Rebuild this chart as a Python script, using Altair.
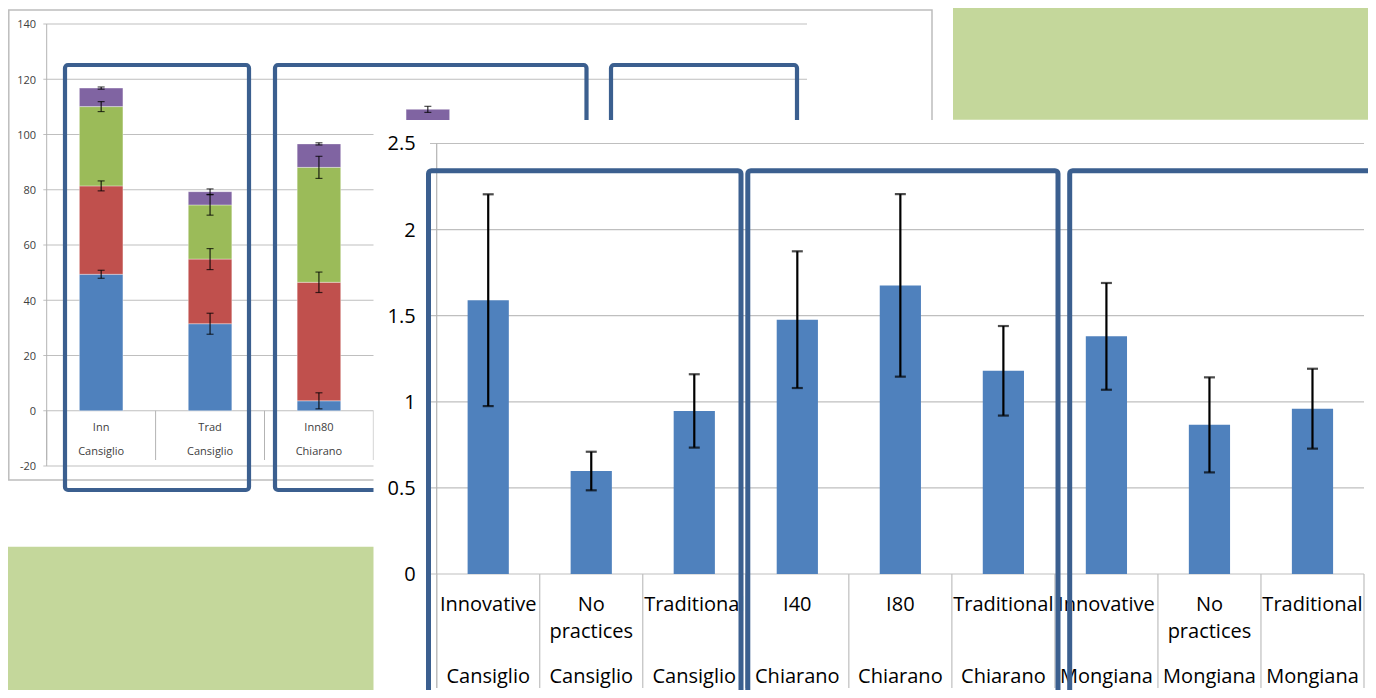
import altair as alt
import pandas as pd

# ---------------- background chart (stacked bars, mostly covered) ----------------
back_treatment = ["Inn", "Trad", "Inn80", "Inn40"]
back_site = ["Cansiglio", "Cansiglio", "Chiarano", "Chiarano"]
back_segments = ["S1", "S2", "S3", "S4"]
back_s1 = [49.4, 31.5, 3.6, 5.0]
back_s2 = [32.0, 23.4, 42.9, 40.0]
back_s3 = [28.7, 19.6, 41.6, 55.0]
back_s4 = [6.7, 4.8, 8.5, 9.1]
back_e1 = [1.45, 3.8, 2.9, 2.0]
back_e2 = [1.8, 3.8, 3.7, 3.0]
back_e3 = [1.8, 3.7, 4.0, 3.0]
back_e4 = [0.4, 1.0, 0.4, 1.1]
back_ticks = [-20, 0, 20, 40, 60, 80, 100, 120, 140]

# ---------------- foreground chart ----------------
front_site = ["Cansiglio", "Cansiglio", "Cansiglio",
              "Chiarano", "Chiarano", "Chiarano",
              "Mongiana", "Mongiana", "Mongiana"]
front_treatment = ["Innovative", "No practices", "Traditional",
                   "I40", "I80", "Traditional",
                   "Innovative", "No practices", "Traditional"]
front_mean = [1.59, 0.598, 0.947, 1.477, 1.676, 1.18, 1.38, 0.866, 0.96]
front_err = [0.615, 0.112, 0.213, 0.397, 0.53, 0.26, 0.31, 0.276, 0.232]
front_ticks = [0, 0.5, 1, 1.5, 2, 2.5]
front_tick_labels = ["0", "0.5", "1", "1.5", "2", "2.5"]

# ---------------- styling ----------------
OFF = 8  # page margin
FONT = "Open Sans"
GRID = "#BFBFBF"
AXIS = "#B3B3B3"
OUTLINE = "#3B5F8F"
GREEN = "#C4D79B"
SEG_COLORS = ["#4F81BD", "#C0504D", "#9BBB59", "#8064A2"]
BAR_BLUE = "#4F81BD"


def V(px):
    return alt.value(px - OFF)


ONE = pd.DataFrame({"k": [0]})

# ---------------- tables ----------------
back_keys = [f"{t}|{s}" for t, s in zip(back_treatment, back_site)]
rows = []
vals = [back_s1, back_s2, back_s3, back_s4]
errs = [back_e1, back_e2, back_e3, back_e4]
for i, key in enumerate(back_keys):
    base = 0.0
    for seg, v, e in zip(back_segments, vals, errs):
        top = base + v[i]
        rows.append({"key": key, "seg": seg, "lo": base, "hi": top,
                     "elo": top - e[i], "ehi": top + e[i]})
        base = top
bdf = pd.DataFrame(rows)
blab = pd.DataFrame({"key": back_keys, "treat": back_treatment, "site": back_site})
bgrid = pd.DataFrame({"v": back_ticks, "lab": [str(t) for t in back_ticks]})
bsep = pd.DataFrame({"i": list(range(len(back_keys) + 1))})

front_keys = [f"{t}|{s}" for t, s in zip(front_treatment, front_site)]
fdf = pd.DataFrame({"key": front_keys, "treat": front_treatment, "site": front_site,
                    "mean": front_mean, "err": front_err})
fdf["elo"] = fdf["mean"] - fdf["err"]
fdf["ehi"] = fdf["mean"] + fdf["err"]
fgrid = pd.DataFrame({"v": front_ticks, "lab": front_tick_labels})
fsep = pd.DataFrame({"i": list(range(len(front_keys) + 1))})

# ---------------- scales ----------------
BX = alt.Scale(domain=back_keys, range=[46.7 - OFF, 482.3 - OFF],
               paddingInner=0.6, paddingOuter=0.3)
BY = alt.Scale(domain=[-20, 140], range=[466 - OFF, 24 - OFF], nice=False, zero=False)
BIDX = alt.Scale(domain=[0, len(back_keys)], range=[46.7 - OFF, 482.3 - OFF], nice=False, zero=False)

FX = alt.Scale(domain=front_keys, range=[436.7 - OFF, 1364 - OFF],
               paddingInner=0.6, paddingOuter=0.3)
FY = alt.Scale(domain=[0, 2.5], range=[574 - OFF, 143.5 - OFF], nice=False, zero=False)
FIDX = alt.Scale(domain=[0, len(front_keys)], range=[436.7 - OFF, 1364 - OFF], nice=False, zero=False)

layers = []

# ---- background chart ----
layers.append(alt.Chart(ONE).mark_rect(fill="white", stroke="#BDBDBD", strokeWidth=1.5).encode(
    x=V(8.8), x2=V(932), y=V(10), y2=V(480)))
layers.append(alt.Chart(bgrid).mark_rule(color=GRID, strokeWidth=1).encode(
    y=alt.Y("v:Q", scale=BY, axis=None), x=V(43.3), x2=V(807)))
layers.append(alt.Chart(ONE).mark_rule(color=AXIS, strokeWidth=1).encode(
    x=V(46.7), y=V(24), y2=V(466)))
layers.append(alt.Chart(bgrid).mark_text(align="right", baseline="alphabetic", dy=4.3,
                                          font=FONT, fontSize=11, color="#404040").encode(
    y=alt.Y("v:Q", scale=BY, axis=None), x=V(36), text="lab:N"))
layers.append(alt.Chart(bsep).mark_rule(color=AXIS, strokeWidth=1).encode(
    x=alt.X("i:Q", scale=BIDX, axis=None), y=V(410.75), y2=V(460)))
layers.append(alt.Chart(blab).mark_text(baseline="alphabetic", font=FONT, fontSize=11,
                                         color="#404040").encode(
    x=alt.X("key:N", scale=BX, axis=None), y=V(431), text="treat:N"))
layers.append(alt.Chart(blab).mark_text(baseline="alphabetic", font=FONT, fontSize=11,
                                         color="#404040").encode(
    x=alt.X("key:N", scale=BX, axis=None), y=V(455), text="site:N"))
layers.append(alt.Chart(bdf).mark_bar(stroke="white", strokeWidth=0.6, strokeOpacity=0.6).encode(
    x=alt.X("key:N", scale=BX, axis=None),
    y=alt.Y("lo:Q", scale=BY, axis=None), y2="hi:Q",
    color=alt.Color("seg:N", scale=alt.Scale(domain=back_segments, range=SEG_COLORS), legend=None)))
layers.append(alt.Chart(bdf).mark_rule(color="black", strokeWidth=1).encode(
    x=alt.X("key:N", scale=BX, axis=None),
    y=alt.Y("elo:Q", scale=BY, axis=None), y2="ehi:Q"))
for fld in ["elo", "ehi"]:
    layers.append(alt.Chart(bdf).mark_tick(orient="horizontal", size=7, thickness=1.2,
                                            color="black").encode(
        x=alt.X("key:N", scale=BX, axis=None),
        y=alt.Y(f"{fld}:Q", scale=BY, axis=None)))
for a, b in [(65, 249), (275, 586.5), (611, 797)]:
    layers.append(alt.Chart(ONE).mark_rect(filled=False, stroke=OUTLINE, strokeWidth=4.2,
                                            cornerRadius=3).encode(
        x=V(a), x2=V(b), y=V(65), y2=V(490)))

# ---- slide green boxes ----
layers.append(alt.Chart(ONE).mark_rect(color=GREEN).encode(
    x=V(953), x2=V(1400), y=V(-10), y2=V(119.7)))
layers.append(alt.Chart(ONE).mark_rect(color=GREEN).encode(
    x=V(-10), x2=V(1400), y=V(546.7), y2=V(710)))

# ---- foreground chart ----
layers.append(alt.Chart(ONE).mark_rect(color="white").encode(
    x=V(373.5), x2=V(1400), y=V(120), y2=V(695)))
layers.append(alt.Chart(fgrid).mark_rule(color=GRID, strokeWidth=1.2).encode(
    y=alt.Y("v:Q", scale=FY, axis=None), x=V(430), x2=V(1364)))
layers.append(alt.Chart(ONE).mark_rule(color=AXIS, strokeWidth=1.2).encode(
    x=V(436.7), y=V(143.5), y2=V(688)))
layers.append(alt.Chart(fsep).mark_rule(color=GRID, strokeWidth=1.2).encode(
    x=alt.X("i:Q", scale=FIDX, axis=None), y=V(574), y2=V(688)))
layers.append(alt.Chart(fgrid).mark_text(align="right", baseline="alphabetic", dy=6.9,
                                          font=FONT, fontSize=20, color="black").encode(
    y=alt.Y("v:Q", scale=FY, axis=None), x=V(415.7), text="lab:N"))
layers.append(alt.Chart(fdf).mark_text(baseline="alphabetic", font=FONT, fontSize=20,
                                        color="black", lineBreak=" ", lineHeight=26.5).encode(
    x=alt.X("key:N", scale=FX, axis=None), y=V(611), text="treat:N"))
layers.append(alt.Chart(fdf).mark_text(baseline="alphabetic", font=FONT, fontSize=20,
                                        color="black").encode(
    x=alt.X("key:N", scale=FX, axis=None), y=V(683.3), text="site:N"))
layers.append(alt.Chart(fdf).mark_bar(color=BAR_BLUE).encode(
    x=alt.X("key:N", scale=FX, axis=None),
    y=alt.Y("mean:Q", scale=FY, axis=None), y2=alt.datum(0)))
layers.append(alt.Chart(fdf).mark_rule(color="black", strokeWidth=2.2).encode(
    x=alt.X("key:N", scale=FX, axis=None),
    y=alt.Y("elo:Q", scale=FY, axis=None), y2="ehi:Q"))
for fld in ["elo", "ehi"]:
    layers.append(alt.Chart(fdf).mark_tick(orient="horizontal", size=11, thickness=2.2,
                                            color="black").encode(
        x=alt.X("key:N", scale=FX, axis=None),
        y=alt.Y(f"{fld}:Q", scale=FY, axis=None)))
for a, b in [(428.5, 741), (747.8, 1058), (1069.7, 1420)]:
    layers.append(alt.Chart(ONE).mark_rect(filled=False, stroke=OUTLINE, strokeWidth=5,
                                            cornerRadius=3).encode(
        x=V(a), x2=V(b), y=V(170.7), y2=V(740)))

chart = alt.layer(*layers).resolve_scale(
    x="independent", y="independent", color="independent"
).properties(
    width=1360, height=682, padding=0,
    autosize=alt.AutoSizeParams(type="none"),
).configure_view(stroke=None)

chart.save("out.html", embed_options={"renderer": "svg", "actions": False})
